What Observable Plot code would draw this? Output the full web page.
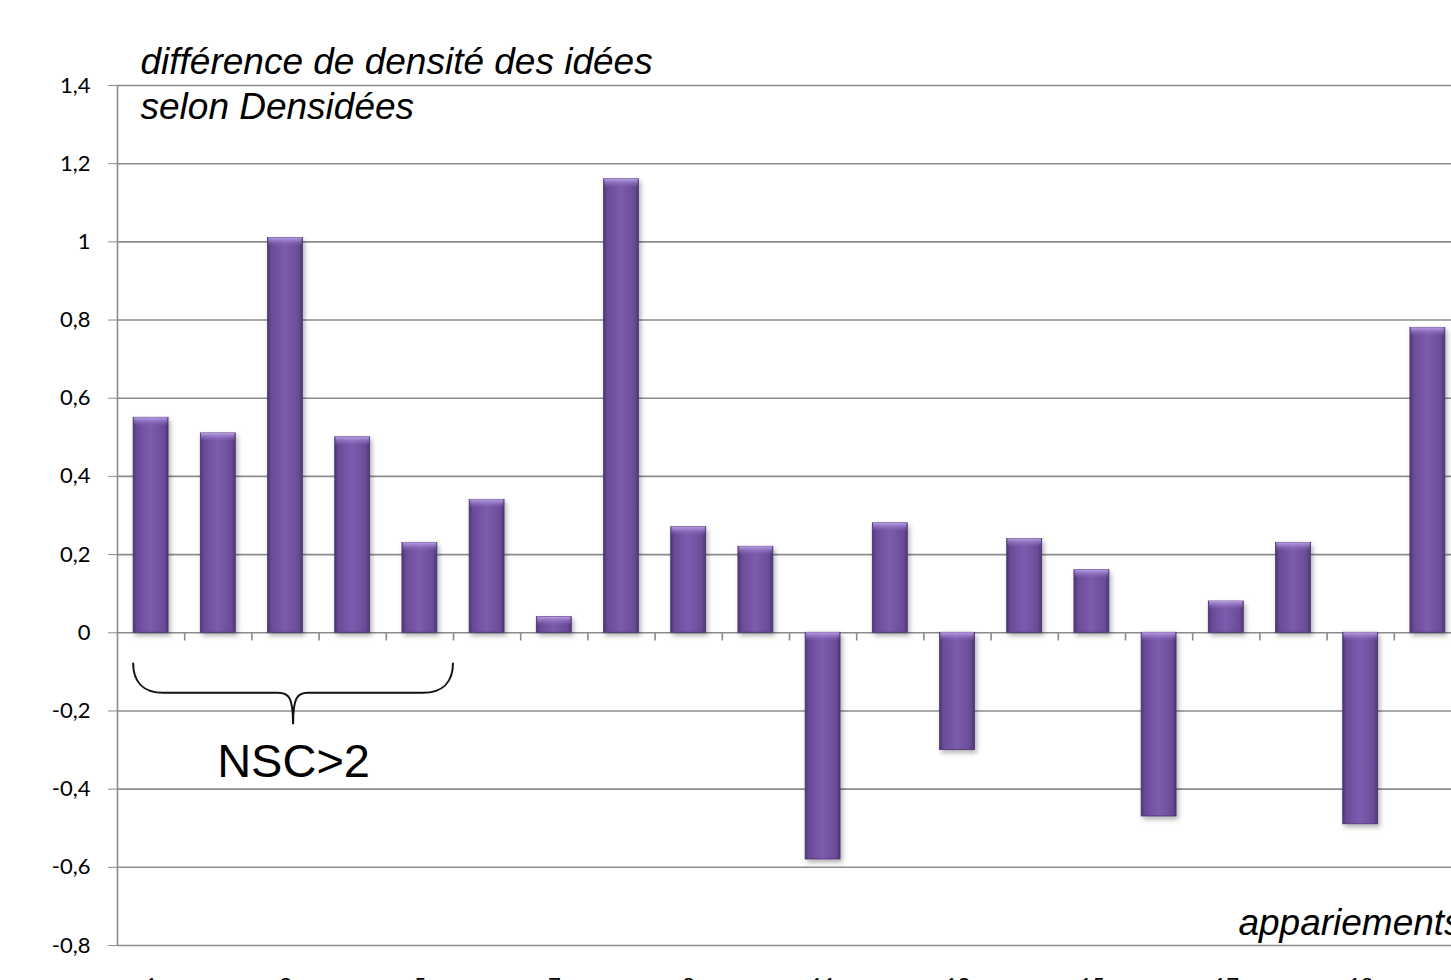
<!DOCTYPE html>
<html><head><meta charset="utf-8">
<script src="https://cdn.jsdelivr.net/npm/d3@7"></script>
<script src="https://cdn.jsdelivr.net/npm/@observablehq/plot@0.6"></script>
<style>
html,body{margin:0;padding:0;background:#fff;overflow:hidden;}
#chart svg{display:block;overflow:hidden;}
</style></head><body><div id="chart"></div>
<script>
// ---- data ----
const categories = [1,2,3,4,5,6,7,8,9,10,11,12,13,14,15,16,17,18,19,20];
const values = [0.55,0.51,1.01,0.50,0.23,0.34,0.04,1.16,0.27,0.22,-0.58,0.28,-0.30,0.24,0.16,-0.47,0.08,0.23,-0.49,0.78];
const xTickLabels = [1,3,5,7,9,11,13,15,17,19];
const yTicks = [-0.8,-0.6,-0.4,-0.2,0,0.2,0.4,0.6,0.8,1,1.2,1.4];
const titleLines = ["différence de densité des idées","selon Densidées"];
const xAxisTitle = "appariements";
const braceLabel = "NSC>2";
const braceX = [0.74, 5.5];          // spans pairs 1..5
const braceY = [-0.078, -0.155, -0.235];

const data = categories.map((c,i)=>({c, v: values[i]}));
const boundaries = categories.map(c => c + 0.5);
const half = 0.26;
const fmt = d => d === 0 ? "0" : String(d).replace(".", ",");
const grid = "#8c8c8c";

function brace(index, scales) {
  const x0 = scales.x(braceX[0]), x1 = scales.x(braceX[1]), xm = (x0+x1)/2;
  const yT = scales.y(braceY[0]), yH = scales.y(braceY[1]), yP = scales.y(braceY[2]);
  const r = yH - yT;
  const d = `M${x0},${yT} C${x0},${yH-r*0.35} ${x0+r*0.35},${yH} ${x0+r},${yH} L${xm-r*0.5},${yH} C${xm-4},${yH} ${xm},${yH+5} ${xm},${yP} C${xm},${yH+5} ${xm+4},${yH} ${xm+r*0.5},${yH} L${x1-r},${yH} C${x1-r*0.35},${yH} ${x1},${yH-r*0.35} ${x1},${yT}`;
  return d3.create("svg:path").attr("d", d).attr("fill","none").attr("stroke","#111").attr("stroke-width",2).node();
}

const svg = Plot.plot({
  width: 1451, height: 1000,
  marginTop: 85, marginBottom: 55, marginLeft: 117, marginRight: 0,
  x: {domain: [0.5, 20.5], range: [117, 1461]},
  y: {domain: [-0.8, 1.4]},
  style: {fontFamily: "Lato, 'Open Sans', sans-serif", fontSize: "22px", color: "#000", background: "#fff"},
  marks: [
    Plot.ruleY(yTicks, {stroke: grid, strokeWidth: 1.6}),
    Plot.ruleX([0.5], {y1: -0.8, y2: 1.4, stroke: grid, strokeWidth: 1.6}),
    Plot.ruleX(boundaries, {y1: 0, y2: -0.021, stroke: grid, strokeWidth: 1.6}),
    Plot.axisY({ticks: yTicks, tickFormat: fmt, tickSize: 9, tickPadding: 18, stroke: grid, fill: "#000", label: null, fontSize: 22}),
    Plot.axisX({ticks: xTickLabels, tickSize: 0, tickPadding: 32, label: null, fill: "#000", fontSize: 22}),
    Plot.rectY(data, {x1: d => d.c - half, x2: d => d.c + half, y1: 0, y2: "v", fill: "url(#barGrad)", stroke: "#4a3370", strokeWidth: 0.8}),
    Plot.rectY(data, {x1: d => d.c - half + 0.01, x2: d => d.c + half - 0.01, y1: d => Math.max(0, d.v), y2: d => Math.max(0, d.v) - 0.022, fill: "url(#bevelGrad)"}),
    brace,
    Plot.text([titleLines[0]], {frameAnchor: "top-left", dx: 23, dy: -12, textAnchor: "start", lineAnchor: "bottom", fontSize: 37, fontStyle: "italic", fontFamily: "'Liberation Sans', Arial, sans-serif", fill: "#000"}),
    Plot.text([titleLines[1]], {frameAnchor: "top-left", dx: 23, dy: 33, textAnchor: "start", lineAnchor: "bottom", fontSize: 37, fontStyle: "italic", fontFamily: "'Liberation Sans', Arial, sans-serif", fill: "#000"}),
    Plot.text([braceLabel], {x: (braceX[0]+braceX[1])/2, y: -0.37, textAnchor: "middle", lineAnchor: "bottom", fontSize: 47, fontFamily: "'Liberation Sans', Arial, sans-serif", fill: "#000"}),
    Plot.text([xAxisTitle], {x: 17.18, y: -0.774, textAnchor: "start", lineAnchor: "bottom", fontSize: 37, fontStyle: "italic", fontFamily: "'Liberation Sans', Arial, sans-serif", fill: "#000"})
  ]
});

const s = d3.select(svg);
const defs = s.insert("defs", ":first-child");
const g = defs.append("linearGradient").attr("id","barGrad").attr("x1","0").attr("x2","1").attr("y1","0").attr("y2","0");
[[0,"#4e3677"],[0.12,"#6a4c98"],[0.5,"#7c5bae"],[0.88,"#6a4c98"],[1,"#4e3677"]].forEach(([o,c]) => g.append("stop").attr("offset",o).attr("stop-color",c));
const b = defs.append("linearGradient").attr("id","bevelGrad").attr("x1","0").attr("x2","0").attr("y1","0").attr("y2","1");
[[0,"#b9a0e6",1],[1,"#8a6bbd",0]].forEach(([o,c,op]) => b.append("stop").attr("offset",o).attr("stop-color",c).attr("stop-opacity",op));
const f = defs.append("filter").attr("id","shadow").attr("x","-20%").attr("y","-5%").attr("width","150%").attr("height","115%");
f.append("feDropShadow").attr("dx",2).attr("dy",3).attr("stdDeviation",2.5).attr("flood-color","#000").attr("flood-opacity",0.3);
s.selectAll("g[aria-label='rect']").filter((d,i)=>i===0).attr("filter","url(#shadow)");
document.getElementById("chart").appendChild(svg);
</script></body></html>
